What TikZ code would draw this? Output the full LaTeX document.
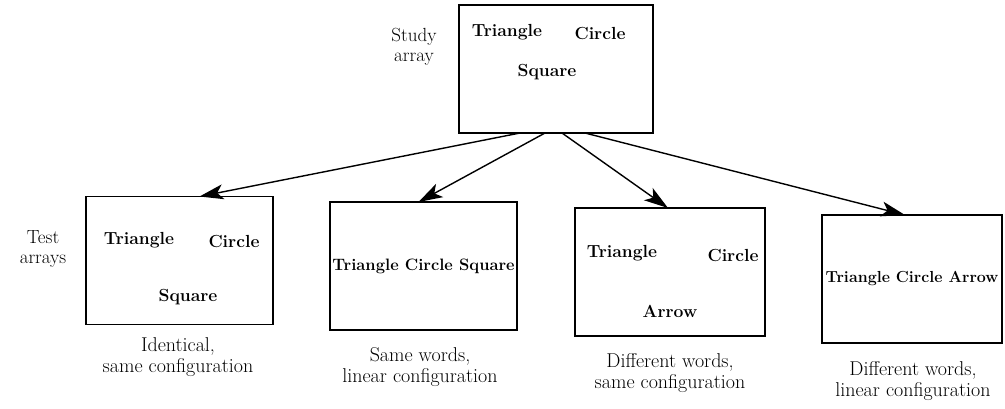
\documentclass[tikz,border=0pt]{standalone}
\usepackage{fontspec}
\usepackage{tikz}
\usetikzlibrary{arrows.meta, positioning}

\begin{document}
\begin{tikzpicture}[
    x=1pt, y=-1pt,
    >={Stealth[length=24pt, width=15pt, inset=6pt]},
    arraybox/.style={draw, line width=1.4pt, minimum width=#1, minimum height=128pt,
                     inner sep=0pt, outer sep=0pt},
    word/.style={font=\fontsize{17.5}{19}\selectfont\bfseries, inner sep=0pt},
    sidetext/.style={align=center, font=\fontsize{19}{20}\selectfont, inner sep=0pt},
    caption/.style={align=center, font=\fontsize{20}{21}\selectfont, inner sep=0pt},
    link/.style={->, line width=1.4pt},
]
  \useasboundingbox (0,0) rectangle (1005,408);

  % study array
  \node[arraybox=194pt] (study) at (556, 69) {};
  \node[word] (st1) at (507, 32) {Triangle};
  \node[word] (st2) at (600, 33) {Circle};
  \node[word] (st3) at (547, 72) {Square};
  \node[sidetext] (studylbl) at (414, 47) {Study\\array};

  % test arrays
  \node[arraybox=187pt] (box1) at (179.5, 260.5) {};
  \node[arraybox=187pt] (box2) at (423.5, 266) {};
  \node[arraybox=190pt] (box3) at (670, 272) {};
  \node[arraybox=180pt] (box4) at (912, 279) {};
  \node[sidetext] (testlbl) at (43, 249) {Test\\arrays};

  \node[word] (a1) at (139, 240) {Triangle};
  \node[word] (b1) at (234, 241) {Circle};
  \node[word] (c1) at (188, 297) {Square};
  \node[word, font=\fontsize{16.5}{18}\selectfont\bfseries] (w2) at (box2) {Triangle Circle Square};
  \node[word] (a3) at (622, 253) {Triangle};
  \node[word] (b3) at (733, 255) {Circle};
  \node[word] (c3) at (670, 311) {Arrow};
  \node[word, font=\fontsize{16}{18}\selectfont\bfseries] (w4) at (box4) {Triangle Circle Arrow};

  % captions
  \node[caption] (cap1) at (178, 357) {Identical,\\same configuration};
  \node[caption] (cap2) at (420, 367) {Same words,\\linear configuration};
  \node[caption] (cap3) at (670, 373) {Different words,\\same configuration};
  \node[caption] (cap4) at (913, 381) {Different words,\\linear configuration};

  \draw[link] ([xshift=-36pt]study.south) -- ([xshift=20pt]box1.north);
  \draw[link] ([xshift=-11pt]study.south) -- ([xshift=-5pt]box2.north);
  \draw[link] ([xshift=6pt]study.south) -- ([xshift=-2pt]box3.north);
  \draw[link] ([xshift=29pt]study.south) -- ([xshift=-7pt]box4.north);
\end{tikzpicture}
\end{document}
